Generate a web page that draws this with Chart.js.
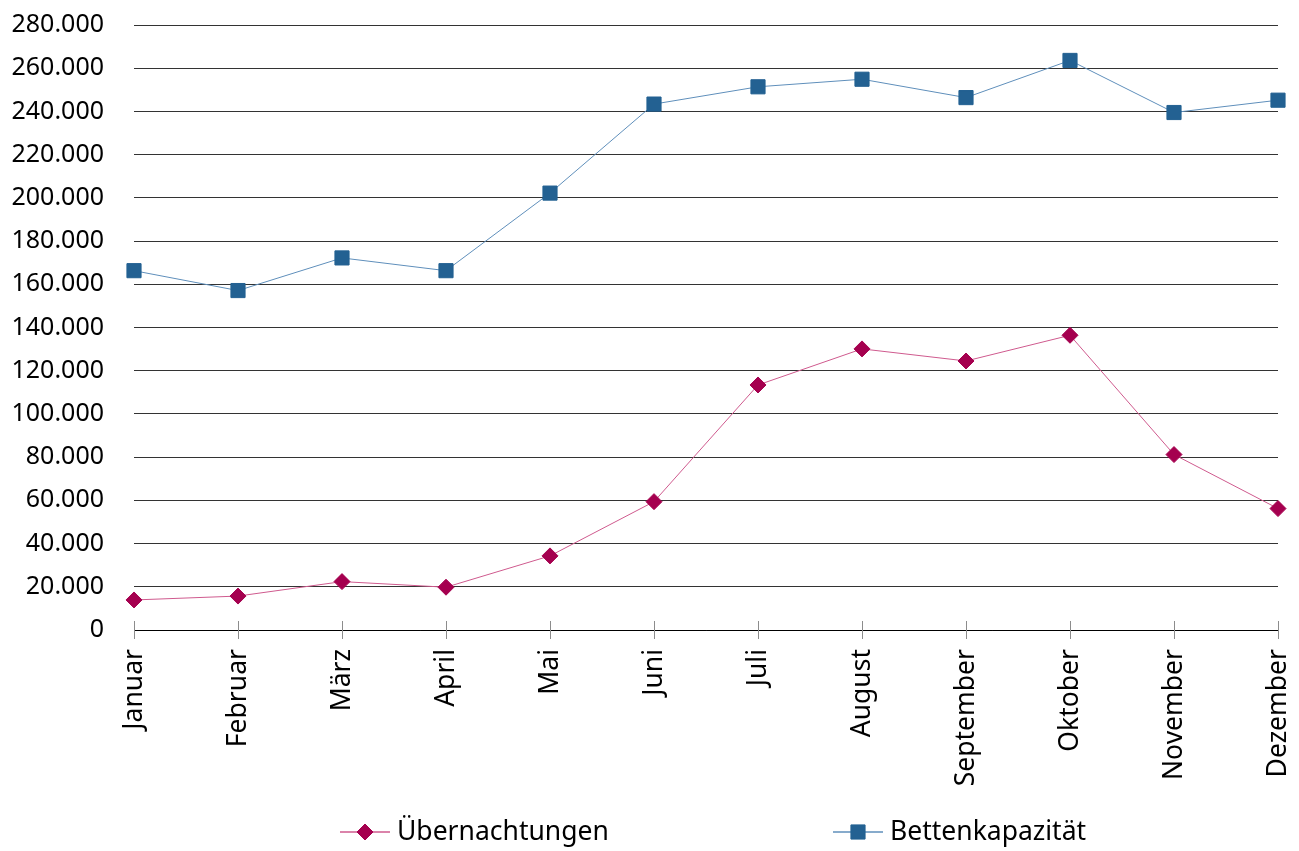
<!DOCTYPE html>
<html>
<head>
<meta charset="utf-8">
<script src="https://cdn.jsdelivr.net/npm/chart.js@4/dist/chart.umd.min.js"></script>
<style>
  html, body { margin: 0; padding: 0; background: #fff; }
  #wrap { width: 1299px; height: 851px; }
</style>
</head>
<body>
<div id="wrap"><canvas id="myChart" width="1299" height="851"></canvas></div>
<script>
// Monate
const monate = ['Januar', 'Februar', 'März', 'April', 'Mai', 'Juni', 'Juli',
    'August', 'September', 'Oktober', 'November', 'Dezember'];

// Übernachtungen
const uebernachtungen = [13900, 15700, 22400, 19800, 34300, 59400,
    113400, 130100, 124500, 136400, 81200, 56200];

// Bettenkapazität
const bettenkapazitaet = [166300, 157100, 172200, 166300, 202200, 243400,
    251400, 254900, 246400, 263600, 239500, 245200];

const yMin = 0;
const yMax = 280000;
const yStep = 20000;

const schrift = '"Noto Sans", "Open Sans", sans-serif';

function tausender(v) {
    return String(v).replace(/\B(?=(\d{3})+(?!\d))/g, '.');
}

// Striche an der x-Achse (oben und unten)
const achsenStriche = {
    id: 'achsenStriche',
    afterDraw(chart) {
        const ctx = chart.ctx;
        const x = chart.scales.x;
        const y0 = chart.chartArea.bottom;
        ctx.save();
        ctx.strokeStyle = '#8c8c8c';
        ctx.lineWidth = 1;
        for (let i = 0; i < x.ticks.length; i++) {
            const px = Math.round(x.getPixelForTick(i)) + 0.5;
            ctx.beginPath();
            ctx.moveTo(px, y0 - 9);
            ctx.lineTo(px, y0 + 9);
            ctx.stroke();
        }
        ctx.restore();
    }
};

// Legende unten, Linie mit Marker
const legende = {
    id: 'legende',
    afterDraw(chart) {
        const ctx = chart.ctx;
        const starts = [340, 833];
        const yLeg = 832;
        ctx.save();
        ctx.font = '26.5px ' + schrift;
        ctx.textBaseline = 'middle';
        chart.data.datasets.forEach((ds, i) => {
            const x0 = starts[i];
            ctx.strokeStyle = ds.borderColor;
            ctx.lineWidth = 1.5;
            ctx.beginPath();
            ctx.moveTo(x0, yLeg);
            ctx.lineTo(x0 + 50, yLeg);
            ctx.stroke();
            ctx.fillStyle = ds.pointBackgroundColor;
            ctx.strokeStyle = ds.pointBorderColor;
            ctx.lineWidth = 1;
            Chart.helpers.drawPoint(ctx, {
                pointStyle: ds.pointStyle,
                radius: ds.pointRadius,
                borderWidth: 1
            }, x0 + 25, yLeg);
            ctx.fillStyle = '#000';
            ctx.fillText(ds.label, x0 + 57, yLeg);
        });
        ctx.restore();
    }
};

const ctx1 = document.getElementById('myChart').getContext('2d');
const myChart1 = new Chart(ctx1, {
    type: 'line',
    data: {
        labels: monate,
        datasets: [{
            label: 'Übernachtungen',
            data: uebernachtungen,
            borderColor: '#cf5a8e',
            borderWidth: 1,
            pointStyle: 'rectRot',
            pointRadius: 8,
            pointBackgroundColor: '#a5004f',
            pointBorderColor: '#a5004f',
            pointBorderWidth: 1,
            tension: 0
        }, {
            label: 'Bettenkapazität',
            data: bettenkapazitaet,
            borderColor: '#5f8fbb',
            borderWidth: 1,
            pointStyle: 'rect',
            pointRadius: 10,
            pointBackgroundColor: '#236192',
            pointBorderColor: '#236192',
            pointBorderWidth: 1,
            tension: 0
        }]
    },
    options: {
        responsive: false,
        animation: false,
        devicePixelRatio: 1,
        layout: {
            padding: { top: 25, right: 21, bottom: 51, left: 0 }
        },
        plugins: {
            legend: { display: false },
            tooltip: { enabled: false }
        },
        scales: {
            x: {
                offset: false,
                grid: {
                    display: true,
                    drawOnChartArea: false,
                    drawTicks: false
                },
                border: { display: true, color: '#000', width: 1 },
                ticks: {
                    autoSkip: false,
                    minRotation: 90,
                    maxRotation: 90,
                    padding: 19,
                    color: '#000',
                    font: { family: schrift, size: 26.5 }
                },
                afterFit(scale) {
                    scale.height = 170;
                    scale.paddingLeft = 0;
                    scale.paddingRight = 0;
                }
            },
            y: {
                min: yMin,
                max: yMax,
                grid: {
                    color: '#333',
                    lineWidth: 1,
                    drawTicks: false
                },
                border: { display: false },
                ticks: {
                    stepSize: yStep,
                    padding: 30,
                    color: '#000',
                    font: { family: schrift, size: 25 },
                    callback: (v) => tausender(v)
                },
                afterFit(scale) {
                    scale.width = 134;
                    scale.paddingTop = 0;
                    scale.paddingBottom = 0;
                }
            }
        }
    },
    plugins: [achsenStriche, legende]
});
</script>
</body>
</html>
